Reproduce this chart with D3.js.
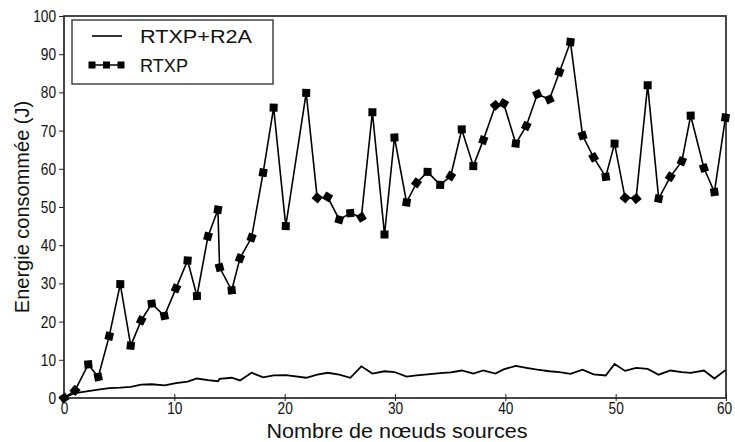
<!DOCTYPE html>
<html>
<head>
<meta charset="utf-8">
<script src="https://cdn.jsdelivr.net/npm/d3@7"></script>
<style>
  html, body { margin: 0; padding: 0; background: #fff; }
  svg { display: block; font-family: "Liberation Sans", Arial, sans-serif; }
</style>
</head>
<body>
<svg id="chart" width="735" height="442"></svg>
<script>
// Number of source nodes (x positions of the samples)
const nodes = [
  0, 1.0, 2.2, 3.1, 4.1, 5.1, 6.05, 7.0, 7.95, 9.1,
  10.15, 11.2, 12.05, 13.05, 13.95, 14.1, 15.2, 15.95, 17.0, 18.05,
  19.0, 20.1, 21.95, 22.95, 23.9, 24.95, 25.95, 26.95, 27.95, 29.05,
  29.95, 31.05, 31.95, 32.95, 34.1, 35.05, 36.05, 37.1, 38.0, 39.1,
  39.85, 40.95, 41.9, 42.9, 44.0, 44.9, 45.9, 47.0, 48.0, 49.1,
  49.9, 50.85, 51.85, 52.9, 53.9, 54.95, 56.0, 56.8, 58.0, 58.95,
  59.95
];

// Energy consumed (J), RTXP alone
const rtxp = [
  0, 2.0, 8.8, 5.5, 16.2, 29.8, 13.7, 20.3, 24.7, 21.5,
  28.7, 36.0, 26.7, 42.3, 49.3, 34.2, 28.2, 36.6, 42.0, 59.0,
  76.0, 45.0, 79.9, 52.4, 52.6, 46.7, 48.4, 47.3, 74.8, 42.8,
  68.2, 51.2, 56.3, 59.2, 55.8, 58.1, 70.3, 60.7, 67.5, 76.6,
  77.1, 66.6, 71.2, 79.5, 78.2, 85.3, 93.2, 68.7, 63.0, 57.9,
  66.6, 52.4, 52.2, 81.9, 52.2, 57.9, 62.0, 73.9, 60.2, 53.9,
  73.4
];

// Energy consumed (J), RTXP combined with R2A
const rtxpR2a = [
  0, 1.3, 1.8, 2.2, 2.6, 2.7, 2.9, 3.5, 3.6, 3.3,
  3.9, 4.3, 5.1, 4.7, 4.4, 5.0, 5.3, 4.6, 6.6, 5.4,
  5.9, 6.0, 5.3, 6.1, 6.6, 6.1, 5.3, 8.3, 6.4, 7.0,
  6.8, 5.6, 5.9, 6.2, 6.5, 6.7, 7.2, 6.4, 7.2, 6.4,
  7.5, 8.4, 7.9, 7.4, 7.0, 6.8, 6.3, 7.4, 6.2, 5.9,
  8.9, 7.1, 7.9, 7.6, 6.1, 7.2, 6.8, 6.6, 7.2, 5.1,
  7.3
];

const xTicks = [0, 10, 20, 30, 40, 50, 60];
const yTicks = [0, 10, 20, 30, 40, 50, 60, 70, 80, 90, 100];
const seriesNames = ["RTXP+R2A", "RTXP"];

const svg = d3.select("#chart");
const plotL = 64, plotR = 726, plotT = 16, plotB = 398;

const x = d3.scaleLinear().domain([0, 60]).range([plotL, plotR]);
const y = d3.scaleLinear().domain([0, 100]).range([plotB, plotT]);

// Narrow tick numerals: squeeze each label to a fixed advance per digit
function narrowDigits(sel) {
  sel.attr("font-size", 17).attr("fill", "#111")
    .attr("textLength", d => String(d).length * 7.6)
    .attr("lengthAdjust", "spacingAndGlyphs");
}

// Plot frame
svg.append("rect")
  .attr("x", plotL).attr("y", plotT)
  .attr("width", plotR - plotL).attr("height", plotB - plotT)
  .attr("fill", "none").attr("stroke", "#333").attr("stroke-width", 1.8);

// X axis
const xAxis = svg.append("g")
  .attr("transform", `translate(0,${plotB})`)
  .call(d3.axisBottom(x).tickValues(xTicks).tickFormat(d3.format("d")).tickSize(0).tickPadding(4));
xAxis.select(".domain").remove();
xAxis.selectAll(".tick").append("line")
  .attr("y1", -4).attr("y2", 3).attr("stroke", "#222").attr("stroke-width", 1);
xAxis.selectAll("text").call(narrowDigits);
// keep the last label inside the canvas edge
xAxis.selectAll(".tick").filter(d => d === 60).select("text").attr("dx", -2);

// Y axis
const yAxis = svg.append("g")
  .attr("transform", `translate(${plotL},0)`)
  .call(d3.axisLeft(y).tickValues(yTicks).tickFormat(d3.format("d")).tickSize(5).tickPadding(3));
yAxis.select(".domain").remove();
yAxis.selectAll(".tick line").attr("stroke", "#222");
yAxis.selectAll("text").call(narrowDigits);

// Axis titles
svg.append("text")
  .attr("x", 397).attr("y", 438)
  .attr("text-anchor", "middle").attr("font-size", 20).attr("fill", "#111")
  .attr("textLength", 261).attr("lengthAdjust", "spacingAndGlyphs")
  .text("Nombre de nœuds sources");
svg.append("text")
  .attr("transform", `translate(29,${(plotT + plotB) / 2}) rotate(-90)`)
  .attr("text-anchor", "middle").attr("font-size", 20).attr("fill", "#111")
  .text("Energie consommée (J)");

const line = d3.line().x((d, i) => x(nodes[i])).y(d => y(d));

// RTXP+R2A curve
svg.append("path")
  .datum(rtxpR2a)
  .attr("d", line)
  .attr("fill", "none").attr("stroke", "#000").attr("stroke-width", 1.8)
  .attr("stroke-linejoin", "miter").attr("stroke-miterlimit", 10);

// RTXP curve
svg.append("path")
  .datum(rtxp)
  .attr("d", line)
  .attr("fill", "none").attr("stroke", "#000").attr("stroke-width", 1.6);

// Square markers turned along the local direction of the curve
const pts = rtxp.map((v, i) => [x(nodes[i]), y(v)]);
function angleAt(i) {
  const seg = (a, b) => Math.atan2(b[1] - a[1], b[0] - a[0]);
  if (i === 0) return seg(pts[0], pts[1]);
  if (i === pts.length - 1) return seg(pts[i - 1], pts[i]);
  return (seg(pts[i - 1], pts[i]) + seg(pts[i], pts[i + 1])) / 2;
}
const ms = 8;
svg.append("g").selectAll("rect")
  .data(rtxp)
  .join("rect")
  .attr("x", -ms / 2).attr("y", -ms / 2)
  .attr("width", ms).attr("height", ms)
  .attr("fill", "#000")
  .attr("transform", (d, i) => `translate(${pts[i][0]},${pts[i][1]}) rotate(${angleAt(i) * 180 / Math.PI})`);

// Legend
const legend = svg.append("g");
legend.append("rect")
  .attr("x", 72).attr("y", 20).attr("width", 201).attr("height", 64)
  .attr("fill", "#fff").attr("stroke", "#444").attr("stroke-width", 1.5);
legend.append("line")
  .attr("x1", 92).attr("x2", 122).attr("y1", 36).attr("y2", 36)
  .attr("stroke", "#000").attr("stroke-width", 1.6);
legend.append("line")
  .attr("x1", 89).attr("x2", 124).attr("y1", 65).attr("y2", 65)
  .attr("stroke", "#000").attr("stroke-width", 1.6);
legend.selectAll(".lm")
  .data([92, 106.5, 121])
  .join("rect")
  .attr("class", "lm")
  .attr("x", d => d - 3.5).attr("y", 61.5).attr("width", 7).attr("height", 7)
  .attr("fill", "#000");
legend.selectAll(".lt")
  .data(seriesNames)
  .join("text")
  .attr("class", "lt")
  .attr("x", 140).attr("y", (d, i) => 43 + i * 29)
  .attr("font-size", 19).attr("fill", "#111")
  .attr("textLength", (d, i) => [112, 48][i]).attr("lengthAdjust", "spacingAndGlyphs")
  .text(d => d);
</script>
</body>
</html>
